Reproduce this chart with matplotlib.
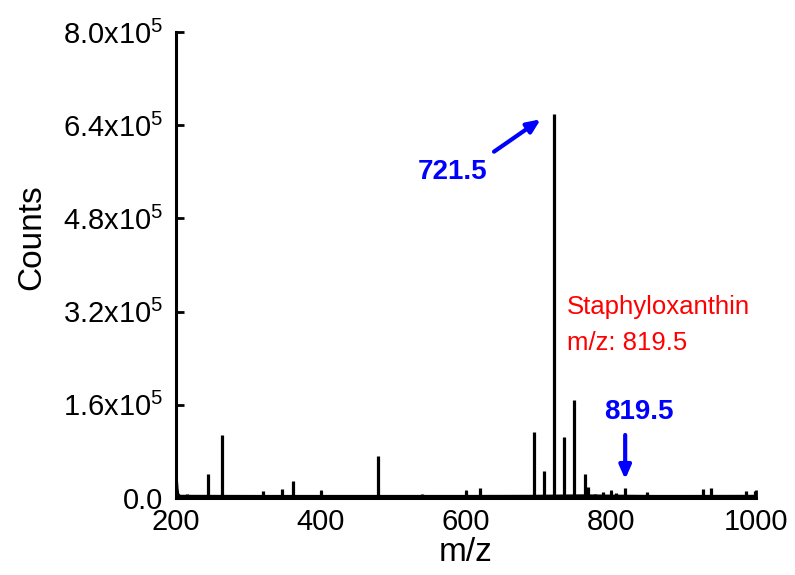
import matplotlib
matplotlib.use("Agg")
import matplotlib.pyplot as plt

plt.rcParams["font.family"] = ["Liberation Sans", "DejaVu Sans"]
plt.rcParams["mathtext.fontset"] = "custom"
plt.rcParams["mathtext.rm"] = "Liberation Sans"
plt.rcParams["mathtext.it"] = "Liberation Sans:italic"
plt.rcParams["mathtext.bf"] = "Liberation Sans:bold"

# peak positions (m/z) and heights (counts)
peak_mz = [215.6, 244.6, 263.0, 319.6, 325.0, 345.8, 361.0, 382.0, 399.6, 408.0,
           423.4, 479.0, 527.3, 539.7, 600.0, 619.7, 693.5, 707.6, 721.5, 735.6,
           749.4, 763.5, 767.8, 778.0, 788.5, 799.6, 806.5, 819.5, 834.0, 849.0,
           927.0, 937.5, 957.0, 962.0, 986.0, 998.6]
peak_counts = [7000, 41000, 109000, 12500, 5000, 15000, 30000, 3000, 12000, 4000,
               4000, 72000, 4000, 7000, 12000, 18000, 114000, 47000, 660000, 104000,
               169000, 42000, 19000, 7000, 11000, 12000, 8000, 16500, 3500, 11000,
               16000, 17000, 4000, 4500, 12000, 12000]

# noise floor of the trace
base_mz = [200, 201, 202, 204, 206, 300, 400, 500, 600, 690, 760, 800, 860, 900, 1000]
base_counts = [30000, 14000, 6000, 3000, 2200, 2000, 2000, 2000, 2000, 2200, 3000, 2500, 2000, 2000, 2200]

y_ticks = [0, 1.6e5, 3.2e5, 4.8e5, 6.4e5, 8.0e5]
y_labels = ["0.0", "1.6x10$^5$", "3.2x10$^5$", "4.8x10$^5$", "6.4x10$^5$", "8.0x10$^5$"]
x_ticks = [200, 400, 600, 800, 1000]

fig = plt.figure(figsize=(7.95, 5.75), dpi=100)
ax = fig.add_axes([0.2214, 0.1339, 0.7296, 0.8104])

ax.plot(base_mz, base_counts, color="black", lw=2.8, solid_joinstyle="miter")
ax.vlines(peak_mz, 0, peak_counts, color="black", lw=2.3)

ax.set_xlim(200, 1000)
ax.set_ylim(0, 8.0e5)
ax.set_xticks(x_ticks)
ax.set_yticks(y_ticks)
ax.set_yticklabels(y_labels)

for s in ["top", "right"]:
    ax.spines[s].set_visible(False)
for s in ["left", "bottom"]:
    ax.spines[s].set_linewidth(2.2)
ax.tick_params(direction="in", length=6, width=2, labelsize=21)
ax.tick_params(axis="y", pad=9)
ax.tick_params(axis="x", pad=7)

ax.set_xlabel("m/z", fontsize=24)
ax.set_ylabel("Counts", fontsize=24)
ax.xaxis.set_label_coords(0.5, -0.083)
ax.yaxis.set_label_coords(-0.222, 0.56)

blue = "#0000ff"
ax.text(581, 559700, "721.5", color=blue, fontsize=20, fontweight="bold",
        ha="center", va="center")
ax.annotate("", xy=(703, 650200), xytext=(638.6, 594600),
            arrowprops=dict(arrowstyle="-|>,head_length=0.8,head_width=0.35",
                            color=blue, lw=3, shrinkA=0, shrinkB=0))
ax.text(838.6, 147700, "819.5", color=blue, fontsize=20, fontweight="bold",
        ha="center", va="center")
ax.annotate("", xy=(819.5, 32100), xytext=(819.5, 108200),
            arrowprops=dict(arrowstyle="-|>,head_length=0.8,head_width=0.35",
                            color=blue, lw=3, shrinkA=0, shrinkB=0))

red = "#ff0000"
ax.text(739.3, 316000, "Staphyloxanthin", color=red, fontsize=18.5, va="baseline")
ax.text(739.3, 254000, "m/z: 819.5", color=red, fontsize=18.5, va="baseline")

fig.savefig("out.png", dpi=100)
